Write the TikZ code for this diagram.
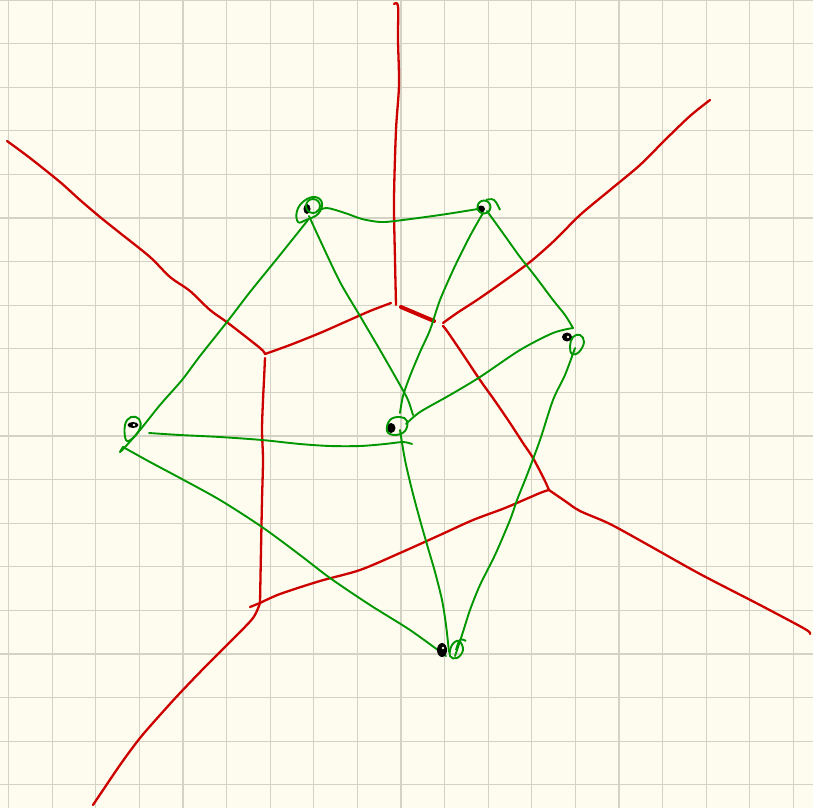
\documentclass[tikz,border=0pt]{standalone}
\usetikzlibrary{calc}
\definecolor{paper}{RGB}{254,252,238}
\definecolor{gridc}{RGB}{212,210,196}
\definecolor{vred}{RGB}{205,0,0}
\definecolor{dgreen}{RGB}{0,150,0}
\tikzset{
  vedge/.style={vred,line width=2.3pt,line cap=round,line join=round},
  dedge/.style={dgreen,line width=1.9pt,line cap=round,line join=round},
  siteloop/.style={dgreen,line width=1.9pt},
  sitedot/.style={fill=black}
}
\begin{document}
\begin{tikzpicture}[x=1pt,y=-1pt]
\fill[paper] (0,0) rectangle (813,808);
\useasboundingbox (0,0) rectangle (813,808);
% grid
\foreach \k in {0,...,18} {
  \draw[gridc,line width=1.2pt] ({8.5+43.6*\k},0) -- ({8.5+43.6*\k},808);
  \draw[gridc,line width=1.2pt] (0,{43.6*\k}) -- (813,{43.6*\k});
}
% named points
\coordinate (A) at (309,208);
\coordinate (B) at (483,208);
\coordinate (C) at (568,338);
\coordinate (D) at (393,428);
\coordinate (E) at (133,425);
\coordinate (F) at (442,650);
\coordinate (V1) at (396,305);
\coordinate (V2) at (265,354);
\coordinate (V3) at (549,490);
\coordinate (V4) at (260,603);
% Voronoi edges (red)
\draw[vedge] plot[smooth,tension=0.5] coordinates {(394,4) (398,6) (398,40) (399,85) (396,130) (394,200) (395,260) (V1)};
\draw[vedge] plot[smooth,tension=0.5] coordinates {(391,303) (370,311) (345,322) (320,333) (290,345) (V2)};
\draw[vred,line width=4pt,line cap=round] (401,307) -- (434,321);
\draw[vedge] plot[smooth,tension=0.5] coordinates {(443,323) (457,313) (477,300) (500,284) (530,262) (555,240) (580,215) (610,190) (640,165) (665,140) (690,116) (710,100)};
\draw[vedge] plot[smooth,tension=0.5] coordinates {(443,326) (447,331) (460,350) (480,380) (495,401) (510,423) (523,443) (533,458) (544,479) (V3)};
\draw[vedge] plot[smooth,tension=0.5] coordinates {(V3) (565,501) (580,511) (610,524) (650,546) (700,574) (760,605) (805,629) (810,634)};
\draw[vedge] plot[smooth,tension=0.5] coordinates {(V3) (540,493) (505,508) (473,520) (440,535) (400,553) (360,570) (320,581) (280,594) (V4)};
\draw[vedge] (250,607) -- (V4);
\draw[vedge] plot[smooth,tension=0.5] coordinates {(265,358) (264,380) (263,400) (262,430) (263,460) (262,500) (261,550) (V4)};
\draw[vedge] (262,424) -- (262,434);
\draw[vedge] plot[smooth,tension=0.5] coordinates {(7,141) (30,158) (60,182) (80,200) (100,217) (120,233) (150,257) (170,277) (190,291) (210,310) (228,323) (260,348) (V2)};
\draw[vedge] plot[smooth,tension=0.5] coordinates {(V4) (253,618) (232,640) (205,667) (180,693) (160,715) (140,738) (120,765) (93,805)};
% Delaunay edges (green)
\draw[dedge] plot[smooth,tension=0.5] coordinates {(317,211) (327,208) (345,213) (362,219) (380,222) (395,221) (440,215) (478,209)};
\draw[dedge] plot[smooth,tension=0.5] coordinates {(308,220) (280,255) (250,292) (227,322) (200,356) (182,380) (160,405) (140,430) (126,446) (120,452) (123,447)};
\draw[dedge] plot[smooth,tension=0.5] coordinates {(309,216) (320,240) (340,282) (360,316) (380,350) (400,385) (408,400) (413,415)};
\draw[dedge] plot[smooth,tension=0.5] coordinates {(483,213) (470,236) (455,266) (440,300) (430,330) (420,352) (410,376) (403,396) (400,413)};
\draw[dedge] plot[smooth,tension=0.5] coordinates {(487,211) (505,236) (520,257) (535,276) (553,300) (565,315) (573,328)};
\draw[dedge] plot[smooth,tension=0.5] coordinates {(573,328) (553,333) (520,350) (480,377) (450,395) (420,412) (406,424)};
\draw[dedge] plot[smooth,tension=0.5] coordinates {(149,433) (180,435) (220,437) (262,440) (300,444) (330,446) (360,446) (385,444) (403,442) (412,444)};
\draw[dedge] plot[smooth,tension=0.5] coordinates {(400,430) (405,460) (412,490) (420,520) (428,548) (435,572) (442,600) (446,625) (449,652)};
\draw[dedge] plot[smooth,tension=0.5] coordinates {(575,348) (565,375) (553,400) (540,440) (527,475) (517,500) (510,520) (495,555) (480,585) (470,610) (462,635) (455,656)};
\draw[dedge] plot[smooth,tension=0.5] coordinates {(123,447) (150,462) (180,478) (220,500) (262,527) (300,555) (330,578) (370,605) (410,630) (446,656)};
% site dots (black)
\fill[sitedot] (307,209) ellipse (3.5 and 5);
\fill[sitedot] (481,209) ellipse (4 and 3.5);
\fill[sitedot] (567,337) ellipse (5 and 4.5);
\fill[paper] (568,337) circle (1.3);
\fill[sitedot] (391,428) ellipse (4.5 and 5);
\fill[sitedot] (133,425) ellipse (5.5 and 3);
\fill[white] (134,425) circle (1.3);
\fill[sitedot] (442,650) ellipse (5 and 7);
\fill[paper] (443,648) circle (1.3);
% site loops (green)
\draw[siteloop] plot[smooth cycle,tension=0.7] coordinates {(298,222) (297,211) (304,201) (315,197) (322,203) (318,214) (306,220)};
\draw[siteloop] (313,206) circle (7);
\draw[siteloop] (484,207) circle (6.5);
\draw[siteloop] plot[smooth,tension=0.7] coordinates {(486,200) (494,200) (500,210)};
\draw[siteloop] plot[smooth cycle,tension=0.7] coordinates {(570,346) (573,337) (580,335) (584,342) (579,352) (572,354)};
\draw[siteloop] plot[smooth cycle,tension=0.7] coordinates {(387,431) (390,420) (400,417) (407,421) (405,431) (395,435)};
\draw[siteloop] plot[smooth cycle,tension=0.7] coordinates {(126,440) (125,425) (131,417) (139,419) (140,428) (133,438)};
\draw[siteloop] plot[smooth cycle,tension=0.7] coordinates {(450,656) (452,645) (459,641) (463,650) (457,658)};
\draw[siteloop] plot[smooth,tension=0.7] coordinates {(456,650) (460,640) (466,641)};
\end{tikzpicture}
\end{document}
